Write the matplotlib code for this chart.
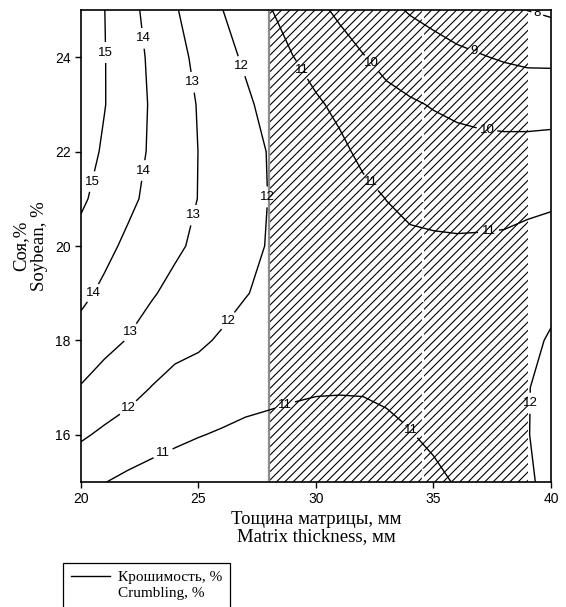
import numpy as np
import matplotlib
matplotlib.use('agg')
import matplotlib.pyplot as plt
from matplotlib.patches import Rectangle
from matplotlib.lines import Line2D

# grid: crumbling, % at matrix thickness (cols) x soybean (rows)
thickness = list(range(20, 41))
soybean = list(range(15, 26))
crumbling = [
	[11.30, 11.02, 10.80, 10.68, 10.58, 10.50, 10.43, 10.40, 10.38, 10.37, 10.35, 10.37, 10.40, 10.50, 10.60, 10.85, 11.05, 11.32, 11.65, 11.90, 12.20],
	[12.12, 11.84, 11.60, 11.33, 11.16, 11.03, 10.93, 10.85, 10.78, 10.74, 10.70, 10.68, 10.70, 10.82, 10.97, 11.12, 11.20, 11.42, 11.70, 11.97, 12.30],
	[12.95, 12.60, 12.32, 11.98, 11.74, 11.56, 11.41, 11.25, 11.20, 11.12, 11.07, 11.06, 11.07, 11.14, 11.20, 11.25, 11.30, 11.48, 11.70, 11.96, 12.30],
	[13.63, 13.26, 12.96, 12.56, 12.26, 12.15, 11.89, 11.65, 11.50, 11.40, 11.30, 11.28, 11.25, 11.25, 11.25, 11.28, 11.30, 11.45, 11.60, 11.76, 12.10],
	[14.22, 13.81, 13.39, 13.09, 12.73, 12.55, 12.33, 12.04, 11.80, 11.62, 11.45, 11.42, 11.35, 11.28, 11.20, 11.22, 11.25, 11.33, 11.40, 11.55, 11.73],
	[14.70, 14.25, 13.81, 13.50, 13.16, 12.81, 12.53, 12.22, 11.95, 11.75, 11.55, 11.45, 11.30, 11.22, 11.15, 11.12, 11.10, 11.12, 11.15, 11.27, 11.32],
	[15.14, 14.67, 14.21, 13.76, 13.38, 12.98, 12.65, 12.32, 11.98, 11.79, 11.55, 11.39, 11.18, 10.99, 10.82, 10.75, 10.72, 10.71, 10.72, 10.79, 10.88],
	[15.40, 14.88, 14.37, 13.89, 13.44, 12.99, 12.65, 12.29, 11.96, 11.69, 11.42, 11.15, 10.85, 10.62, 10.46, 10.35, 10.29, 10.26, 10.25, 10.28, 10.31],
	[15.60, 15.03, 14.46, 13.91, 13.42, 12.95, 12.54, 12.14, 11.76, 11.44, 11.10, 10.84, 10.45, 10.24, 10.09, 9.95, 9.82, 9.72, 9.66, 9.62, 9.65],
	[15.63, 15.03, 14.43, 13.84, 13.30, 12.79, 12.26, 11.89, 11.45, 11.02, 10.70, 10.38, 10.04, 9.76, 9.54, 9.33, 9.15, 9.05, 8.92, 8.82, 8.80],
	[15.68, 15.01, 14.32, 13.68, 13.08, 12.54, 12.02, 11.54, 11.06, 10.63, 10.21, 9.84, 9.53, 9.21, 8.93, 8.75, 8.60, 8.38, 8.15, 7.99, 7.85],
]
levels = [8, 9, 10, 11, 12, 13, 14, 15]

# hatched zone and the break inside it
zone = [28, 39]
zone_split = 34.57

# where the labels sit
label_pos = [
	(21.06, 24.1), (20.6, 21.35),
	(22.64, 24.4), (22.64, 21.6), (20.64, 18.96),
	(24.77, 23.47), (24.72, 20.66), (22.13, 18.16),
	(26.77, 23.8), (27.9, 21.04), (26.3, 18.4), (22.09, 16.53),
	(23.49, 15.61), (28.68, 16.63), (34.0, 16.1),
	(39.02, 16.67),
	(29.4, 23.73), (32.38, 21.36), (37.32, 20.4),
	(32.43, 23.9), (37.28, 22.5),
	(36.68, 24.09),
	(39.4, 24.9),
]

sans = 'Liberation Sans'
serif = 'Liberation Serif'
plt.rcParams['hatch.linewidth'] = 0.8

fig = plt.figure(figsize=(5.66, 6.07), dpi=100)
ax = fig.add_axes([0.1431, 0.2059, 0.8304, 0.7776])

ax.add_patch(Rectangle((zone[0], soybean[0]), zone[1] - zone[0], soybean[-1] - soybean[0],
	fill=False, hatch='////', edgecolor='black', lw=0, zorder=1))
ax.plot([zone[0], zone[0]], [soybean[0], soybean[-1]], color='0.55', lw=1.6, zorder=1.2)
ax.plot([zone_split, zone_split], [soybean[0], soybean[-1]], color='white', lw=1.6,
	ls=(0, (6, 3)), zorder=1.5)

X, Y = np.meshgrid(thickness, soybean)
cs = ax.contour(X, Y, np.array(crumbling), levels=levels, colors='black', linewidths=1.0, zorder=2)
lbl = ax.clabel(cs, inline=True, fmt='%d', fontsize=9.5, manual=label_pos, inline_spacing=2)
for t in lbl:
	t.set_fontfamily(sans)
	t.set_rotation(0)

ax.set_xlim(20, 40)
ax.set_ylim(15, 25)
ax.set_xticks([20, 25, 30, 35, 40])
ax.set_yticks([16, 18, 20, 22, 24])
ax.tick_params(direction='out', length=4, width=1, labelsize=10)
for t in ax.get_xticklabels() + ax.get_yticklabels():
	t.set_fontfamily(sans)
for s in ax.spines.values():
	s.set_linewidth(1.2)

ax.set_xlabel('Тощина матрицы, мм\nMatrix thickness, мм', fontfamily=serif, fontsize=13.5,
	linespacing=1.05, labelpad=3)
ax.set_ylabel('Соя,%\nSoybean, %', fontfamily=serif, fontsize=13.5, linespacing=1.1, labelpad=5)

handles = [Line2D([], [], color='black', lw=1), Line2D([], [], lw=0), Line2D([], [], lw=0)]
leg = fig.legend(handles, ['Крошимость, %', 'Crumbling, %', ' '], loc='upper left',
	bbox_to_anchor=(63 / 566, 1 - 563 / 607), borderaxespad=0,
	prop={'family': serif, 'size': 11},
	fancybox=False, edgecolor='black', framealpha=1, handlelength=2.6, handletextpad=0.5,
	labelspacing=0.1, borderpad=0.5)
leg.get_frame().set_linewidth(0.9)

fig.savefig('out.png', dpi=100)
